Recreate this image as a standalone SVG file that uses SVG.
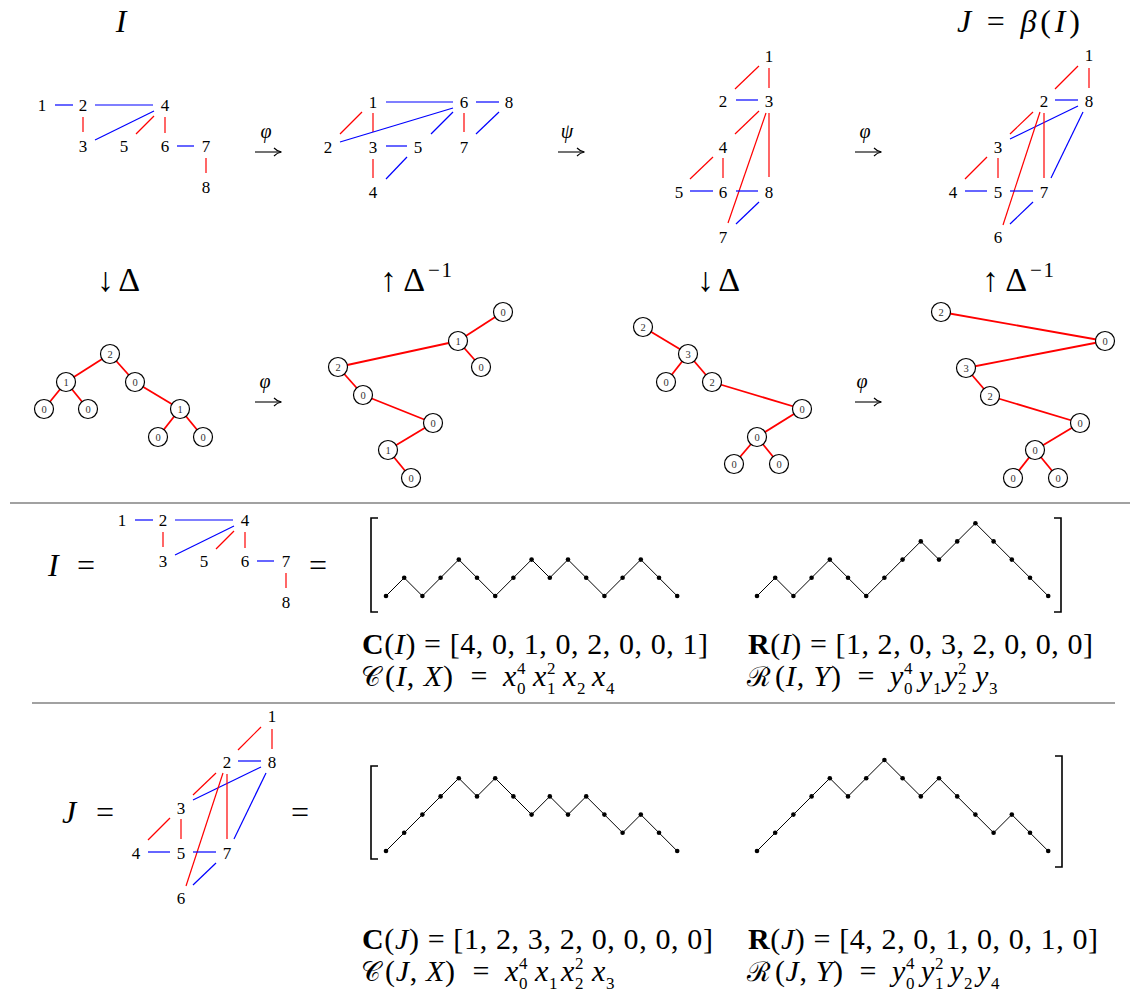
<svg xmlns="http://www.w3.org/2000/svg" width="1132" height="998" viewBox="0 0 1132 998">
<defs>
<marker id="ah" viewBox="0 0 10 10" refX="9" refY="5" markerWidth="10" markerHeight="10" markerUnits="userSpaceOnUse" orient="auto">
<path d="M2,1 Q5,4.2 9.5,5 Q5,5.8 2,9" fill="none" stroke="#000" stroke-width="1.1"/>
</marker>
</defs>
<style>
text{font-family:"Liberation Serif","Times New Roman",serif;fill:#000}
.lab{font-size:17px;text-anchor:middle}
.big{font-size:32px}
.da{font-size:34px}
.it{font-style:italic}
.bf{font-weight:bold}
.r{stroke:#f00;stroke-width:1.2;fill:none}
.b{stroke:#00f;stroke-width:1.2;fill:none}
.te{stroke:#f00;stroke-width:1.8}
.tn circle{fill:#fff;stroke:#000;stroke-width:1.2}
.tn text{font-size:10.5px;fill:#333;text-anchor:middle}
.dy{fill:none;stroke:#000;stroke-width:1}
.dt{fill:#000}
.br{fill:none;stroke:#000;stroke-width:1.6}
.rule{stroke:#444;stroke-width:1.2}
.f{font-size:30px}
.s{font-size:17px}
.sc{font-size:27px}
.ar{stroke:#000;stroke-width:1.1;marker-end:url(#ah)}
.mid{text-anchor:middle}
</style>

<!-- titles -->
<text class="big it" x="121" y="32" text-anchor="middle">I</text>
<text class="big" x="957" y="32" textLength="123" lengthAdjust="spacing"><tspan class="it">J</tspan> = <tspan class="it">β</tspan>(<tspan class="it">I</tspan>)</text>

<!-- Graph I -->
<g id="gI">
<g id="gI-edges">
<line class="b" x1="55" y1="105" x2="73" y2="105"/>
<line class="b" x1="95" y1="105" x2="153" y2="105"/>
<line class="r" x1="83" y1="117" x2="83" y2="132"/>
<line class="b" x1="95" y1="140" x2="154" y2="111"/>
<line class="r" x1="136" y1="134" x2="154" y2="116"/>
<line class="r" x1="165" y1="117" x2="165" y2="133"/>
<line class="b" x1="177" y1="146" x2="194" y2="146"/>
<line class="r" x1="206" y1="158" x2="206" y2="173"/>
</g>
<g id="gI-n1"><text class="lab" x="42" y="111">1</text></g>
<g id="gI-n2"><text class="lab" x="83" y="111">2</text></g>
<g id="gI-n4"><text class="lab" x="165" y="111">4</text></g>
<g id="gI-n3"><text class="lab" x="83" y="152">3</text></g>
<g id="gI-n5"><text class="lab" x="124" y="152">5</text></g>
<g id="gI-n6"><text class="lab" x="165" y="152">6</text></g>
<g id="gI-n7"><text class="lab" x="206" y="152">7</text></g>
<g id="gI-n8"><text class="lab" x="206" y="193">8</text></g>
</g>

<!-- Graph 2 -->
<g id="g2">
<g id="g2-edges">
<line class="b" x1="386" y1="102" x2="453" y2="102"/>
<line class="b" x1="476" y1="102" x2="499" y2="102"/>
<line class="r" x1="340" y1="134" x2="362" y2="112"/>
<line class="r" x1="373" y1="113" x2="373" y2="132"/>
<line class="b" x1="340" y1="142" x2="453" y2="108"/>
<line class="b" x1="431" y1="134" x2="453" y2="112"/>
<line class="r" x1="464" y1="113" x2="464" y2="132"/>
<line class="b" x1="476" y1="134" x2="499" y2="112"/>
<line class="b" x1="386" y1="146" x2="407" y2="146"/>
<line class="r" x1="373" y1="159" x2="373" y2="178"/>
<line class="b" x1="386" y1="179" x2="407" y2="157"/>
</g>
<g id="g2-n1"><text class="lab" x="373" y="108">1</text></g>
<g id="g2-n6"><text class="lab" x="464" y="108">6</text></g>
<g id="g2-n8"><text class="lab" x="509" y="108">8</text></g>
<g id="g2-n2"><text class="lab" x="328" y="153">2</text></g>
<g id="g2-n3"><text class="lab" x="373" y="153">3</text></g>
<g id="g2-n5"><text class="lab" x="418" y="153">5</text></g>
<g id="g2-n7"><text class="lab" x="464" y="153">7</text></g>
<g id="g2-n4"><text class="lab" x="373" y="198">4</text></g>
</g>

<!-- Graph 3 -->
<g id="g3">
<g id="g3-edges">
<line class="r" x1="735" y1="89" x2="759" y2="66"/>
<line class="r" x1="769" y1="68" x2="769" y2="88"/>
<line class="b" x1="736" y1="100" x2="758" y2="100"/>
<line class="r" x1="735" y1="134" x2="759" y2="111"/>
<line class="r" x1="766" y1="113" x2="728" y2="223"/>
<line class="r" x1="769" y1="113" x2="769" y2="177"/>
<line class="r" x1="690" y1="179" x2="713" y2="157"/>
<line class="r" x1="723" y1="158" x2="723" y2="178"/>
<line class="b" x1="690" y1="191" x2="713" y2="191"/>
<line class="b" x1="736" y1="191" x2="758" y2="191"/>
<line class="b" x1="736" y1="224" x2="759" y2="202"/>
</g>
<g id="g3-n1"><text class="lab" x="769" y="62">1</text></g>
<g id="g3-n2"><text class="lab" x="723" y="107">2</text></g>
<g id="g3-n3"><text class="lab" x="769" y="107">3</text></g>
<g id="g3-n4"><text class="lab" x="723" y="153">4</text></g>
<g id="g3-n5"><text class="lab" x="679" y="198">5</text></g>
<g id="g3-n6"><text class="lab" x="723" y="198">6</text></g>
<g id="g3-n8"><text class="lab" x="769" y="198">8</text></g>
<g id="g3-n7"><text class="lab" x="723" y="243">7</text></g>
</g>

<!-- Graph 4 (J) -->
<g id="g4">
<g id="g4-edges">
<line class="r" x1="1055" y1="89" x2="1078" y2="66"/>
<line class="r" x1="1089" y1="68" x2="1089" y2="88"/>
<line class="b" x1="1055" y1="100" x2="1078" y2="100"/>
<line class="r" x1="1010" y1="134" x2="1033" y2="112"/>
<line class="b" x1="1010" y1="139" x2="1078" y2="106"/>
<line class="r" x1="1040" y1="112" x2="1003" y2="225"/>
<line class="r" x1="1044" y1="113" x2="1044" y2="178"/>
<line class="b" x1="1083" y1="112" x2="1051" y2="178"/>
<line class="r" x1="965" y1="179" x2="987" y2="157"/>
<line class="r" x1="998" y1="158" x2="998" y2="178"/>
<line class="b" x1="965" y1="191" x2="987" y2="191"/>
<line class="b" x1="1010" y1="191" x2="1033" y2="191"/>
<line class="b" x1="1010" y1="224" x2="1033" y2="202"/>
</g>
<g id="g4-n1"><text class="lab" x="1089" y="61">1</text></g>
<g id="g4-n2"><text class="lab" x="1044" y="107">2</text></g>
<g id="g4-n8"><text class="lab" x="1089" y="107">8</text></g>
<g id="g4-n3"><text class="lab" x="998" y="153">3</text></g>
<g id="g4-n4"><text class="lab" x="953" y="198">4</text></g>
<g id="g4-n5"><text class="lab" x="998" y="198">5</text></g>
<g id="g4-n7"><text class="lab" x="1044" y="198">7</text></g>
<g id="g4-n6"><text class="lab" x="998" y="243">6</text></g>
</g>

<!-- maps -->
<g id="maps">
<line class="ar" x1="255" y1="152" x2="281" y2="152"/>
<text class="it mid" x="266" y="138" font-size="20">φ</text>
<line class="ar" x1="558" y1="152" x2="584" y2="152"/>
<text class="it mid" x="567" y="138" font-size="20">ψ</text>
<line class="ar" x1="855" y1="152" x2="881" y2="152"/>
<text class="it mid" x="865" y="138" font-size="20">φ</text>
<line class="ar" x1="255" y1="402" x2="281" y2="402"/>
<text class="it mid" x="265" y="388" font-size="20">φ</text>
<line class="ar" x1="855" y1="402" x2="881" y2="402"/>
<text class="it mid" x="862" y="388" font-size="20">φ</text>
<text class="da" x="97" y="291" textLength="43" lengthAdjust="spacing">↓Δ</text>
<text class="da" x="380" y="291" textLength="45" lengthAdjust="spacing">↑Δ</text>
<text x="428" y="277" font-size="21" textLength="24" lengthAdjust="spacing">−1</text>
<text class="da" x="697" y="291" textLength="43" lengthAdjust="spacing">↓Δ</text>
<text class="da" x="982" y="291" textLength="45" lengthAdjust="spacing">↑Δ</text>
<text x="1030" y="277" font-size="21" textLength="24" lengthAdjust="spacing">−1</text>
</g>

<!-- Tree A -->
<g id="tA">
<g id="tA-edges">
<line class="te" x1="110" y1="354" x2="66" y2="382"/>
<line class="te" x1="110" y1="354" x2="135" y2="382"/>
<line class="te" x1="66" y1="382" x2="44" y2="409"/>
<line class="te" x1="66" y1="382" x2="88" y2="409"/>
<line class="te" x1="135" y1="382" x2="180" y2="409"/>
<line class="te" x1="180" y1="409" x2="158" y2="437"/>
<line class="te" x1="180" y1="409" x2="203" y2="437"/>
</g>
<g id="tA-1" class="tn"><circle cx="110" cy="354" r="9.5"/><text x="110" y="358">2</text></g>
<g id="tA-2" class="tn"><circle cx="66" cy="382" r="9.5"/><text x="66" y="386">1</text></g>
<g id="tA-3" class="tn"><circle cx="135" cy="382" r="9.5"/><text x="135" y="386">0</text></g>
<g id="tA-4" class="tn"><circle cx="44" cy="409" r="9.5"/><text x="44" y="413">0</text></g>
<g id="tA-5" class="tn"><circle cx="88" cy="409" r="9.5"/><text x="88" y="413">0</text></g>
<g id="tA-6" class="tn"><circle cx="180" cy="409" r="9.5"/><text x="180" y="413">1</text></g>
<g id="tA-7" class="tn"><circle cx="158" cy="437" r="9.5"/><text x="158" y="441">0</text></g>
<g id="tA-8" class="tn"><circle cx="203" cy="437" r="9.5"/><text x="203" y="441">0</text></g>
</g>

<!-- Tree B -->
<g id="tB">
<g id="tB-edges">
<line class="te" x1="458" y1="341" x2="503" y2="312"/>
<line class="te" x1="458" y1="341" x2="481" y2="367"/>
<line class="te" x1="458" y1="341" x2="338" y2="367"/>
<line class="te" x1="338" y1="367" x2="363" y2="395"/>
<line class="te" x1="363" y1="395" x2="433" y2="423"/>
<line class="te" x1="433" y1="423" x2="388" y2="450"/>
<line class="te" x1="388" y1="450" x2="411" y2="478"/>
</g>
<g id="tB-1" class="tn"><circle cx="503" cy="312" r="9.5"/><text x="503" y="316">0</text></g>
<g id="tB-2" class="tn"><circle cx="458" cy="341" r="9.5"/><text x="458" y="345">1</text></g>
<g id="tB-3" class="tn"><circle cx="481" cy="367" r="9.5"/><text x="481" y="371">0</text></g>
<g id="tB-4" class="tn"><circle cx="338" cy="367" r="9.5"/><text x="338" y="371">2</text></g>
<g id="tB-5" class="tn"><circle cx="363" cy="395" r="9.5"/><text x="363" y="399">0</text></g>
<g id="tB-6" class="tn"><circle cx="433" cy="423" r="9.5"/><text x="433" y="427">0</text></g>
<g id="tB-7" class="tn"><circle cx="388" cy="450" r="9.5"/><text x="388" y="454">1</text></g>
<g id="tB-8" class="tn"><circle cx="411" cy="478" r="9.5"/><text x="411" y="482">0</text></g>
</g>

<!-- Tree C -->
<g id="tC">
<g id="tC-edges">
<line class="te" x1="643" y1="327" x2="688" y2="354"/>
<line class="te" x1="688" y1="354" x2="666" y2="382"/>
<line class="te" x1="688" y1="354" x2="712" y2="382"/>
<line class="te" x1="712" y1="382" x2="802" y2="409"/>
<line class="te" x1="802" y1="409" x2="757" y2="437"/>
<line class="te" x1="757" y1="437" x2="734" y2="464"/>
<line class="te" x1="757" y1="437" x2="779" y2="464"/>
</g>
<g id="tC-1" class="tn"><circle cx="643" cy="327" r="9.5"/><text x="643" y="331">2</text></g>
<g id="tC-2" class="tn"><circle cx="688" cy="354" r="9.5"/><text x="688" y="358">3</text></g>
<g id="tC-3" class="tn"><circle cx="666" cy="382" r="9.5"/><text x="666" y="386">0</text></g>
<g id="tC-4" class="tn"><circle cx="712" cy="382" r="9.5"/><text x="712" y="386">2</text></g>
<g id="tC-5" class="tn"><circle cx="802" cy="409" r="9.5"/><text x="802" y="413">0</text></g>
<g id="tC-6" class="tn"><circle cx="757" cy="437" r="9.5"/><text x="757" y="441">0</text></g>
<g id="tC-7" class="tn"><circle cx="734" cy="464" r="9.5"/><text x="734" y="468">0</text></g>
<g id="tC-8" class="tn"><circle cx="779" cy="464" r="9.5"/><text x="779" y="468">0</text></g>
</g>

<!-- Tree D -->
<g id="tD">
<g id="tD-edges">
<line class="te" x1="941" y1="312" x2="1105" y2="341"/>
<line class="te" x1="1105" y1="341" x2="966" y2="368"/>
<line class="te" x1="966" y1="368" x2="990" y2="396"/>
<line class="te" x1="990" y1="396" x2="1080" y2="423"/>
<line class="te" x1="1080" y1="423" x2="1035" y2="450"/>
<line class="te" x1="1035" y1="450" x2="1013" y2="478"/>
<line class="te" x1="1035" y1="450" x2="1058" y2="478"/>
</g>
<g id="tD-1" class="tn"><circle cx="941" cy="312" r="9.5"/><text x="941" y="316">2</text></g>
<g id="tD-2" class="tn"><circle cx="1105" cy="341" r="9.5"/><text x="1105" y="345">0</text></g>
<g id="tD-3" class="tn"><circle cx="966" cy="368" r="9.5"/><text x="966" y="372">3</text></g>
<g id="tD-4" class="tn"><circle cx="990" cy="396" r="9.5"/><text x="990" y="400">2</text></g>
<g id="tD-5" class="tn"><circle cx="1080" cy="423" r="9.5"/><text x="1080" y="427">0</text></g>
<g id="tD-6" class="tn"><circle cx="1035" cy="450" r="9.5"/><text x="1035" y="454">0</text></g>
<g id="tD-7" class="tn"><circle cx="1013" cy="478" r="9.5"/><text x="1013" y="482">0</text></g>
<g id="tD-8" class="tn"><circle cx="1058" cy="478" r="9.5"/><text x="1058" y="482">0</text></g>
</g>

<!-- rules -->
<line class="rule" x1="10" y1="503" x2="1130" y2="503"/>
<line class="rule" x1="32" y1="703" x2="1115" y2="703"/>

<!-- Middle section -->
<text class="big it" x="48" y="576">I</text>
<text class="big mid" x="86" y="576">=</text>
<g id="gIs" transform="translate(80,415)">
<g id="gIs-edges">
<line class="b" x1="55" y1="105" x2="73" y2="105"/>
<line class="b" x1="95" y1="105" x2="153" y2="105"/>
<line class="r" x1="83" y1="117" x2="83" y2="132"/>
<line class="b" x1="95" y1="140" x2="154" y2="111"/>
<line class="r" x1="136" y1="134" x2="154" y2="116"/>
<line class="r" x1="165" y1="117" x2="165" y2="133"/>
<line class="b" x1="177" y1="146" x2="194" y2="146"/>
<line class="r" x1="206" y1="158" x2="206" y2="173"/>
</g>
<g id="gIs-n1"><text class="lab" x="42" y="111">1</text></g>
<g id="gIs-n2"><text class="lab" x="83" y="111">2</text></g>
<g id="gIs-n4"><text class="lab" x="165" y="111">4</text></g>
<g id="gIs-n3"><text class="lab" x="83" y="152">3</text></g>
<g id="gIs-n5"><text class="lab" x="124" y="152">5</text></g>
<g id="gIs-n6"><text class="lab" x="165" y="152">6</text></g>
<g id="gIs-n7"><text class="lab" x="206" y="152">7</text></g>
<g id="gIs-n8"><text class="lab" x="206" y="193">8</text></g>
</g>
<text class="big mid" x="318" y="576">=</text>

<g id="dyck1">
<path class="br" d="M378,518 H371 V612 H378"/>
<path class="br" d="M1054,518 H1061 V612 H1054"/>
<polyline class="dy" points="386,596 404.2,577.8 422.4,596 440.6,577.8 458.8,559.6 477,577.8 495.2,596 513.4,577.8 531.6,559.6 549.8,577.8 568,559.6 586.2,577.8 604.4,596 622.6,577.8 640.8,559.6 659,577.8 677.2,596"/>
<g class="dt">
<circle cx="386" cy="596" r="2.3"/><circle cx="404.2" cy="577.8" r="2.3"/><circle cx="422.4" cy="596" r="2.3"/><circle cx="440.6" cy="577.8" r="2.3"/><circle cx="458.8" cy="559.6" r="2.3"/><circle cx="477" cy="577.8" r="2.3"/><circle cx="495.2" cy="596" r="2.3"/><circle cx="513.4" cy="577.8" r="2.3"/><circle cx="531.6" cy="559.6" r="2.3"/><circle cx="549.8" cy="577.8" r="2.3"/><circle cx="568" cy="559.6" r="2.3"/><circle cx="586.2" cy="577.8" r="2.3"/><circle cx="604.4" cy="596" r="2.3"/><circle cx="622.6" cy="577.8" r="2.3"/><circle cx="640.8" cy="559.6" r="2.3"/><circle cx="659" cy="577.8" r="2.3"/><circle cx="677.2" cy="596" r="2.3"/>
</g>
<polyline class="dy" points="757,596 775.2,577.8 793.4,596 811.6,577.8 829.8,559.6 848,577.8 866.2,596 884.4,577.8 902.6,559.6 920.8,541.4 939,559.6 957.2,541.4 975.4,523.2 993.6,541.4 1011.8,559.6 1030,577.8 1048.2,596"/>
<g class="dt">
<circle cx="757" cy="596" r="2.3"/><circle cx="775.2" cy="577.8" r="2.3"/><circle cx="793.4" cy="596" r="2.3"/><circle cx="811.6" cy="577.8" r="2.3"/><circle cx="829.8" cy="559.6" r="2.3"/><circle cx="848" cy="577.8" r="2.3"/><circle cx="866.2" cy="596" r="2.3"/><circle cx="884.4" cy="577.8" r="2.3"/><circle cx="902.6" cy="559.6" r="2.3"/><circle cx="920.8" cy="541.4" r="2.3"/><circle cx="939" cy="559.6" r="2.3"/><circle cx="957.2" cy="541.4" r="2.3"/><circle cx="975.4" cy="523.2" r="2.3"/><circle cx="993.6" cy="541.4" r="2.3"/><circle cx="1011.8" cy="559.6" r="2.3"/><circle cx="1030" cy="577.8" r="2.3"/><circle cx="1048.2" cy="596" r="2.3"/>
</g>
</g>

<g id="formI">
<text class="f" x="362" y="654" textLength="346" lengthAdjust="spacing"><tspan class="bf">C</tspan>(<tspan class="it">I</tspan>) = [4, 0, 1, 0, 2, 0, 0, 1]</text>
<text class="f" x="748" y="654" textLength="345" lengthAdjust="spacing"><tspan class="bf">R</tspan>(<tspan class="it">I</tspan>) = [1, 2, 0, 3, 2, 0, 0, 0]</text>
<text class="sc" x="361" y="686">𝒞</text>
<text class="f" x="385" y="686" textLength="68" lengthAdjust="spacing">(<tspan class="it">I</tspan>, <tspan class="it">X</tspan>)</text>
<text class="f mid" x="479" y="686">=</text>
<text class="f it" x="503" y="686">x</text><text class="s" x="517" y="694">0</text><text class="s" x="517" y="674">4</text>
<text class="f it" x="533" y="686">x</text><text class="s" x="547" y="694">1</text><text class="s" x="547" y="674">2</text>
<text class="f it" x="563" y="686">x</text><text class="s" x="577" y="694">2</text>
<text class="f it" x="592" y="686">x</text><text class="s" x="606" y="694">4</text>
<text class="sc" x="747" y="686">ℛ</text>
<text class="f" x="775" y="686" textLength="66" lengthAdjust="spacing">(<tspan class="it">I</tspan>, <tspan class="it">Y</tspan>)</text>
<text class="f mid" x="866" y="686">=</text>
<text class="f it" x="890" y="686">y</text><text class="s" x="904" y="694">0</text><text class="s" x="904" y="674">4</text>
<text class="f it" x="919" y="686">y</text><text class="s" x="933" y="694">1</text>
<text class="f it" x="944" y="686">y</text><text class="s" x="958" y="694">2</text><text class="s" x="958" y="674">2</text>
<text class="f it" x="975" y="686">y</text><text class="s" x="989" y="694">3</text>
</g>

<!-- Bottom section -->
<text class="big it" x="62" y="823">J</text>
<text class="big mid" x="105" y="823">=</text>
<g id="gJs" transform="translate(-817,661)">
<g id="gJs-edges">
<line class="r" x1="1055" y1="89" x2="1078" y2="66"/>
<line class="r" x1="1089" y1="68" x2="1089" y2="88"/>
<line class="b" x1="1055" y1="100" x2="1078" y2="100"/>
<line class="r" x1="1010" y1="134" x2="1033" y2="112"/>
<line class="b" x1="1010" y1="139" x2="1078" y2="106"/>
<line class="r" x1="1040" y1="112" x2="1003" y2="225"/>
<line class="r" x1="1044" y1="113" x2="1044" y2="178"/>
<line class="b" x1="1083" y1="112" x2="1051" y2="178"/>
<line class="r" x1="965" y1="179" x2="987" y2="157"/>
<line class="r" x1="998" y1="158" x2="998" y2="178"/>
<line class="b" x1="965" y1="191" x2="987" y2="191"/>
<line class="b" x1="1010" y1="191" x2="1033" y2="191"/>
<line class="b" x1="1010" y1="224" x2="1033" y2="202"/>
</g>
<g id="gJs-n1"><text class="lab" x="1089" y="61">1</text></g>
<g id="gJs-n2"><text class="lab" x="1044" y="107">2</text></g>
<g id="gJs-n8"><text class="lab" x="1089" y="107">8</text></g>
<g id="gJs-n3"><text class="lab" x="998" y="153">3</text></g>
<g id="gJs-n4"><text class="lab" x="953" y="198">4</text></g>
<g id="gJs-n5"><text class="lab" x="998" y="198">5</text></g>
<g id="gJs-n7"><text class="lab" x="1044" y="198">7</text></g>
<g id="gJs-n6"><text class="lab" x="998" y="243">6</text></g>
</g>
<text class="big mid" x="300" y="823">=</text>

<g id="dyck2">
<path class="br" d="M378,766 H371 V859 H378"/>
<path class="br" d="M1055,756 H1062 V867 H1055"/>
<polyline class="dy" points="386,851 404.2,832.8 422.4,814.6 440.6,796.4 458.8,778.2 477,796.4 495.2,778.2 513.4,796.4 531.6,814.6 549.8,796.4 568,814.6 586.2,796.4 604.4,814.6 622.6,832.8 640.8,814.6 659,832.8 677.2,851"/>
<g class="dt">
<circle cx="386" cy="851" r="2.3"/><circle cx="404.2" cy="832.8" r="2.3"/><circle cx="422.4" cy="814.6" r="2.3"/><circle cx="440.6" cy="796.4" r="2.3"/><circle cx="458.8" cy="778.2" r="2.3"/><circle cx="477" cy="796.4" r="2.3"/><circle cx="495.2" cy="778.2" r="2.3"/><circle cx="513.4" cy="796.4" r="2.3"/><circle cx="531.6" cy="814.6" r="2.3"/><circle cx="549.8" cy="796.4" r="2.3"/><circle cx="568" cy="814.6" r="2.3"/><circle cx="586.2" cy="796.4" r="2.3"/><circle cx="604.4" cy="814.6" r="2.3"/><circle cx="622.6" cy="832.8" r="2.3"/><circle cx="640.8" cy="814.6" r="2.3"/><circle cx="659" cy="832.8" r="2.3"/><circle cx="677.2" cy="851" r="2.3"/>
</g>
<polyline class="dy" points="757,851 775.2,832.8 793.4,814.6 811.6,796.4 829.8,778.2 848,796.4 866.2,778.2 884.4,760 902.6,778.2 920.8,796.4 939,778.2 957.2,796.4 975.4,814.6 993.6,832.8 1011.8,814.6 1030,832.8 1048.2,851"/>
<g class="dt">
<circle cx="757" cy="851" r="2.3"/><circle cx="775.2" cy="832.8" r="2.3"/><circle cx="793.4" cy="814.6" r="2.3"/><circle cx="811.6" cy="796.4" r="2.3"/><circle cx="829.8" cy="778.2" r="2.3"/><circle cx="848" cy="796.4" r="2.3"/><circle cx="866.2" cy="778.2" r="2.3"/><circle cx="884.4" cy="760" r="2.3"/><circle cx="902.6" cy="778.2" r="2.3"/><circle cx="920.8" cy="796.4" r="2.3"/><circle cx="939" cy="778.2" r="2.3"/><circle cx="957.2" cy="796.4" r="2.3"/><circle cx="975.4" cy="814.6" r="2.3"/><circle cx="993.6" cy="832.8" r="2.3"/><circle cx="1011.8" cy="814.6" r="2.3"/><circle cx="1030" cy="832.8" r="2.3"/><circle cx="1048.2" cy="851" r="2.3"/>
</g>
</g>

<g id="formJ">
<text class="f" x="362" y="949" textLength="351" lengthAdjust="spacing"><tspan class="bf">C</tspan>(<tspan class="it">J</tspan>) = [1, 2, 3, 2, 0, 0, 0, 0]</text>
<text class="f" x="748" y="949" textLength="350" lengthAdjust="spacing"><tspan class="bf">R</tspan>(<tspan class="it">J</tspan>) = [4, 2, 0, 1, 0, 0, 1, 0]</text>
<text class="sc" x="361" y="981">𝒞</text>
<text class="f" x="385" y="981" textLength="70" lengthAdjust="spacing">(<tspan class="it">J</tspan>, <tspan class="it">X</tspan>)</text>
<text class="f mid" x="481" y="981">=</text>
<text class="f it" x="505" y="981">x</text><text class="s" x="519" y="989">0</text><text class="s" x="519" y="969">4</text>
<text class="f it" x="535" y="981">x</text><text class="s" x="549" y="989">1</text>
<text class="f it" x="561" y="981">x</text><text class="s" x="575" y="989">2</text><text class="s" x="575" y="969">2</text>
<text class="f it" x="592" y="981">x</text><text class="s" x="606" y="989">3</text>
<text class="sc" x="747" y="981">ℛ</text>
<text class="f" x="775" y="981" textLength="68" lengthAdjust="spacing">(<tspan class="it">J</tspan>, <tspan class="it">Y</tspan>)</text>
<text class="f mid" x="868" y="981">=</text>
<text class="f it" x="892" y="981">y</text><text class="s" x="906" y="989">0</text><text class="s" x="906" y="969">4</text>
<text class="f it" x="921" y="981">y</text><text class="s" x="935" y="989">1</text><text class="s" x="935" y="969">2</text>
<text class="f it" x="950" y="981">y</text><text class="s" x="964" y="989">2</text>
<text class="f it" x="977" y="981">y</text><text class="s" x="991" y="989">4</text>
</g>
</svg>
